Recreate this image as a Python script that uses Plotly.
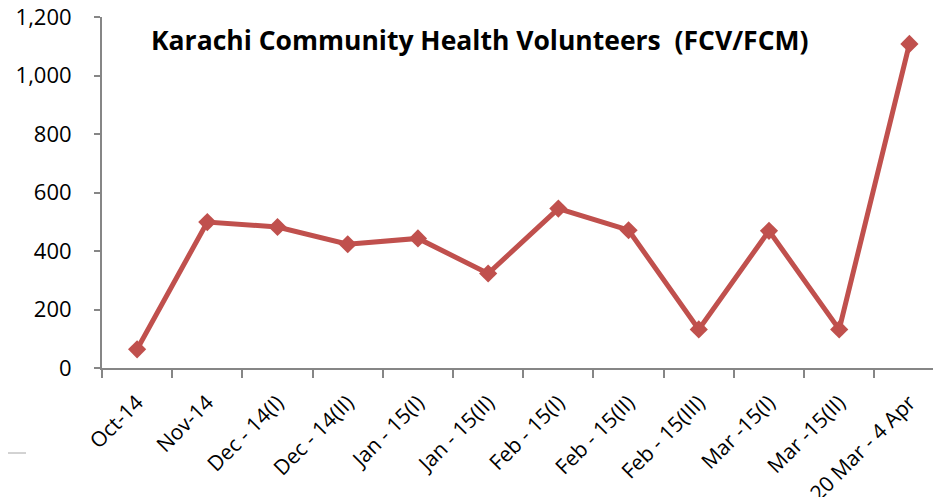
import plotly.graph_objects as go

# Zeitraeume (Kategorien) und Anzahl der Freiwilligen
periods = ["Oct-14", "Nov-14", "Dec - 14(I)", "Dec - 14(II)", "Jan - 15(I)", "Jan - 15(II)",
           "Feb - 15(I)", "Feb - 15(II)", "Feb - 15(III)", "Mar -15(I)", "Mar -15(II)",
           "20 Mar - 4 Apr"]
volunteers = [64, 499, 482, 423, 443, 323, 545, 471, 132, 469, 132, 1108]
y_ticks = [0, 200, 400, 600, 800, 1000, 1200]

title_text = "Karachi Community Health Volunteers  (FCV/FCM)"
line_color = "#C0504D"
axis_color = "#868686"
font_family = "'Open Sans', Lato, sans-serif"

fig = go.Figure()
fig.add_trace(go.Scatter(
    x=periods,
    y=volunteers,
    mode="lines+markers",
    line=dict(color=line_color, width=5),
    marker=dict(symbol="diamond", size=14, color=line_color),
    showlegend=False,
))

# Die Seite hat 8 px Body-Rand, daher Figur 933x489
# Plotflaeche auf der Seite: links 102 px, oben 17 px, unten bei y=368 px
fig.update_layout(
    width=933,
    height=489,
    margin=dict(l=94, r=0, t=9, b=129),
    paper_bgcolor="white",
    plot_bgcolor="white",
    font=dict(family=font_family, size=20, color="black"),
    annotations=[dict(
        text="<b>" + title_text + "</b>",
        x=(149 - 102) / 839, xref="paper", y=(368 - 40) / 351, yref="paper",
        showarrow=False, xanchor="left", yanchor="middle",
        font=dict(size=26.5, color="black", family=font_family),
    )],
    shapes=[dict(
        type="line", xref="paper", yref="paper",
        x0=-94 / 839, x1=-76 / 839, y0=-85 / 351, y1=-85 / 351,
        line=dict(color="#A6A6A6", width=1),
    )],
)

fig.update_xaxes(
    range=[-0.5, 11.45],
    automargin=False,
    showgrid=False,
    showline=True,
    linecolor=axis_color,
    linewidth=2,
    ticks="outside",
    tickson="boundaries",
    ticklen=8,
    tickwidth=2,
    tickcolor=axis_color,
    tickangle=-45,
    tickfont=dict(size=21),
    ticklabelstandoff=12,
    ticklabeloverflow="allow",
)
fig.update_yaxes(
    range=[0, 1200],
    automargin=False,
    tickvals=y_ticks,
    tickformat=",",
    showgrid=False,
    zeroline=False,
    showline=True,
    linecolor=axis_color,
    linewidth=2,
    ticks="outside",
    ticklen=6,
    tickwidth=2,
    tickcolor=axis_color,
    tickfont=dict(size=22),
    ticklabelstandoff=18,
    ticklabeloverflow="allow",
)

fig.write_html("out.html")
